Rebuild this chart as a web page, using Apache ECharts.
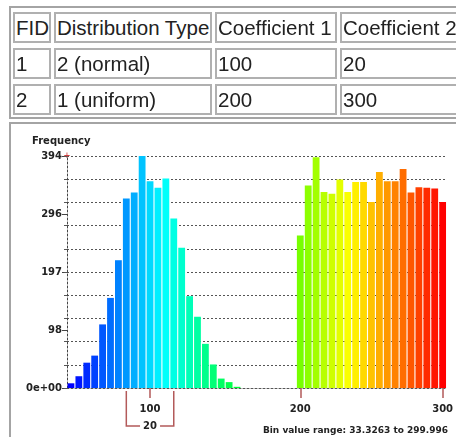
<!DOCTYPE html>
<html>
<head>
<meta charset="utf-8">
<script src="https://cdn.jsdelivr.net/npm/echarts@6/dist/echarts.min.js"></script>
<style>
body{margin:0;background:#fff;width:456px;height:437px;overflow:hidden;position:relative}
#chart{position:absolute;left:0;top:0;width:456px;height:437px}
.frame{position:absolute;box-sizing:border-box;border:2px solid #a4a4a4;border-right:none}
.cell{position:absolute;box-sizing:border-box;border:2px solid #b0b0b0;font-family:"Liberation Sans",Arial,sans-serif;font-size:20.5px;color:#222;line-height:25px;padding:1px 0 0 1px;white-space:nowrap;overflow:hidden;background:#fff}
</style>
</head>
<body>
<div id="chart"></div>
<div id="tbl"></div>
<script>
// table above the histogram
var tableHead=["FID","Distribution Type","Coefficient 1","Coefficient 2"];
var tableRows=[["1","2 (normal)","100","20"],["2","1 (uniform)","200","300"]];

// histogram bins (lower edge of each bin)
var binStarts=["33.3","38.9","44.4","50.0","55.5","61.1","66.7","72.2","77.8","83.3","88.9","94.4",
  "100.0","105.5","111.1","116.7","122.2","127.8","133.3","138.9","144.4","150.0","155.5","161.1",
  "166.7","172.2","177.8","183.3","188.9","194.4","200.0","205.5","211.1","216.7","222.2","227.8",
  "233.3","238.9","244.4","250.0","255.5","261.1","266.7","272.2","277.8","283.3","288.9","294.4"];
var counts=[8,20,43,55,108,153,217,322,332,394,351,340,356,288,238,156,121,75,40,16,10,2,
  0,0,0,0,0,0,0,
  259,344,392,333,330,354,333,350,350,316,367,351,351,372,332,341,340,339,316];

var yMax=394;
var yTickLabels=["0e+00","98","197","296","394"];
var xTickBins=[10,29,47];
var xTickLabels=["100","200","300"];
var sdFrom=7, sdTo=13, sdText="20";
var rangeText="Bin value range: 33.3263 to 299.996";
var ramp=[[0,0,255],[0,255,255],[0,255,0],[255,255,0],[255,0,0]];

// table
var tbl=document.getElementById("tbl");
var colX=[[13,51],[54,212],[215,337],[340,480]];
var rowY=[12,48,84];
var fr=document.createElement("div");
fr.className="frame";
fr.style.cssText="left:9px;top:6px;width:460px;height:113px";
tbl.appendChild(fr);
var fr2=document.createElement("div");
fr2.className="frame";
fr2.style.cssText="left:9px;top:122px;width:460px;height:330px";
tbl.appendChild(fr2);
[tableHead].concat(tableRows).forEach(function(row,r){
  row.forEach(function(txt,c){
    var d=document.createElement("div");
    d.className="cell";
    d.style.left=colX[c][0]+"px";
    d.style.top=rowY[r]+"px";
    d.style.width=(colX[c][1]-colX[c][0])+"px";
    d.style.height="31px";
    d.textContent=txt;
    tbl.appendChild(d);
  });
});

function rampColor(i){
  var t=i/(counts.length-1)*(ramp.length-1);
  var k=Math.min(Math.floor(t),ramp.length-2), f=t-k;
  var a=ramp[k], b=ramp[k+1];
  return "rgb("+Math.round(a[0]+(b[0]-a[0])*f)+","+Math.round(a[1]+(b[1]-a[1])*f)+","+Math.round(a[2]+(b[2]-a[2])*f)+")";
}

var chart=echarts.init(document.getElementById("chart"));
var tickColor="#b35a5a";
var option={
  animation:false,
  backgroundColor:"transparent",
  title:[{
    text:"Frequency",
    left:27,
    top:131,
    textStyle:{fontFamily:"DejaVu Sans",fontSize:10,fontWeight:"bold",color:"#222"}
  },{
    text:rangeText,
    right:3,
    top:421,
    textStyle:{fontFamily:"DejaVu Sans",fontSize:9,fontWeight:"bold",color:"#222"}
  }],
  grid:{left:67,right:3,top:156,bottom:49},
  xAxis:{
    type:"category",
    data:binStarts,
    boundaryGap:true,
    axisLine:{lineStyle:{color:"#555",type:[2,2]}},
    axisTick:{
      show:true,
      alignWithLabel:true,
      length:10,
      interval:function(i){return xTickBins.indexOf(i)>=0;},
      lineStyle:{color:tickColor,width:1.5}
    },
    axisLabel:{
      interval:function(i){return xTickBins.indexOf(i)>=0;},
      formatter:function(v,i){return xTickLabels[xTickBins.indexOf(i)];},
      fontFamily:"DejaVu Sans",fontSize:10,fontWeight:"bold",color:"#222",
      margin:16
    },
    splitLine:{show:false}
  },
  yAxis:[{
    type:"value",
    min:0,
    max:yMax,
    interval:yMax/4,
    axisLine:{show:true,lineStyle:{color:"#444",type:[2,2]}},
    axisTick:{show:true,length:5,lineStyle:{color:"#444"}},
    axisLabel:{
      formatter:function(v){return yTickLabels[Math.round(v/(yMax/4))];},
      fontFamily:"DejaVu Sans",fontSize:10,fontWeight:"bold",color:"#222",margin:5
    },
    splitLine:{show:false}
  },{
    type:"value",
    min:0,
    max:yMax,
    interval:yMax/10,
    position:"left",
    axisLine:{show:false},
    axisTick:{show:true,length:3,lineStyle:{color:"#555"}},
    axisLabel:{show:false},
    splitLine:{show:true,lineStyle:{color:"#555",type:[2,2]}}
  }],
  series:[{
    type:"bar",
    yAxisIndex:0,
    barCategoryGap:"14%",
    data:counts,
    itemStyle:{color:function(p){return rampColor(p.dataIndex);}}
  }]
};
chart.setOption(option);

// +/- one standard deviation bracket under the mean tick
var x0=chart.convertToPixel({xAxisIndex:0},binStarts[sdFrom]);
var x1=chart.convertToPixel({xAxisIndex:0},binStarts[sdTo]);
var yb=chart.convertToPixel({yAxisIndex:0},0);
var yTop=yb+3, yBot=yb+38, xm=(x0+x1)/2;
var ls={stroke:tickColor,lineWidth:1.5};
var axisX=chart.getModel().getComponent("grid").coordinateSystem.getRect().x;
chart.setOption({graphic:[
  {type:"polyline",shape:{points:[[x0,yTop],[x0,yBot],[xm-10,yBot]]},style:ls,silent:true},
  {type:"polyline",shape:{points:[[x1,yTop],[x1,yBot],[xm+10,yBot]]},style:ls,silent:true},
  {type:"text",x:xm,y:yBot,style:{text:sdText,align:"center",verticalAlign:"middle",fontFamily:"DejaVu Sans",fontSize:10,fontWeight:"bold",fill:"#222"}},
  {type:"text",x:axisX,y:chart.convertToPixel({yAxisIndex:0},yMax),style:{text:"+",align:"center",verticalAlign:"middle",fontSize:11,fill:"#d04040"}}
]});
</script>
</body>
</html>
